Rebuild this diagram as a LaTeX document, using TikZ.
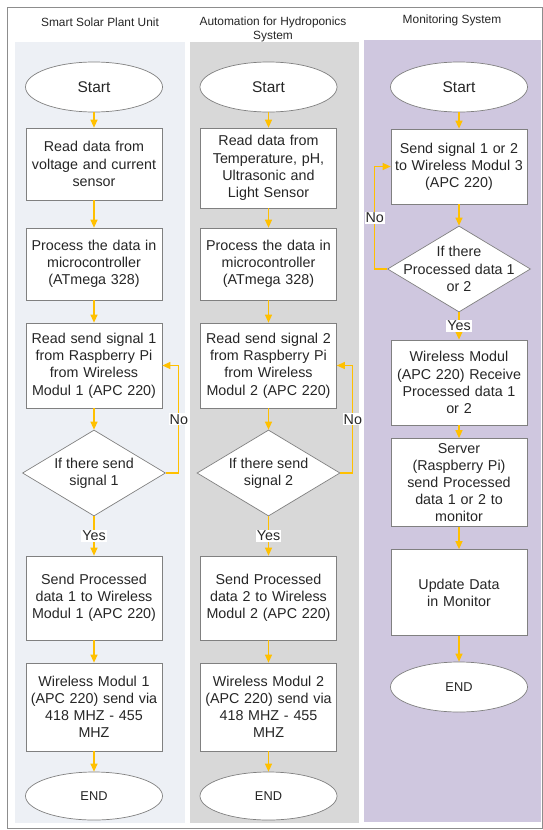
\documentclass[tikz,border=0pt]{standalone}
\usepackage{fontspec}
\setmainfont{Liberation Sans}
\usepackage{tikz}
\usetikzlibrary{arrows.meta,shapes.geometric}

\definecolor{laneA}{RGB}{237,240,245}
\definecolor{laneB}{RGB}{216,216,216}
\definecolor{laneC}{RGB}{207,199,223}
\definecolor{flowgold}{RGB}{255,192,0}
\definecolor{boxgray}{RGB}{128,128,128}
\definecolor{inkgray}{RGB}{38,38,38}

\tikzset{
  procbox/.style={draw=boxgray, fill=white, line width=0.7pt, text=inkgray,
    text width=134pt, inner xsep=1pt, inner ysep=0pt, align=center,
    font=\fontsize{14.3}{17.2}\selectfont},
  terminal/.style={ellipse, draw=boxgray, fill=white, line width=0.7pt, text=inkgray,
    inner sep=0pt, minimum width=137pt, minimum height=50pt},
  decision/.style={diamond, draw=boxgray, fill=white, line width=0.7pt,
    inner sep=0pt, minimum width=143pt, minimum height=86pt},
  ask/.style={text=inkgray, align=center, font=\fontsize{14.3}{17.2}\selectfont},
  flow/.style={draw=flowgold, line width=1.2pt, -{Triangle[length=8pt,width=7pt]}},
  answer/.style={fill=white, inner sep=1pt, text=inkgray, font=\fontsize{14.3}{17}\selectfont},
  title/.style={text=inkgray, align=center, font=\fontsize{11.9}{14}\selectfont}
}

\begin{document}
\begin{tikzpicture}[x=1pt,y=-1pt]
\useasboundingbox (0,0) rectangle (543,830);

% Frame and lanes
\fill[white] (0,0) rectangle (543,830);
\draw[boxgray!90, line width=0.8pt] (7,7) rectangle (542.5,828);
\fill[laneA] (15,42) rectangle (185,823);
\fill[laneB] (190,42) rectangle (359,823);
\fill[laneC] (364,40) rectangle (541,822);

% Lane titles
\node[title] (tsolar) at (100,22) {Smart Solar Plant Unit};
\node[title] (thydro) at (273,29) {Automation for Hydroponics\\System};
\node[title] (tmon) at (452,20) {Monitoring System};

% Smart Solar Plant Unit
\node[terminal, font=\fontsize{15.5}{18}\selectfont] (start1) at (94,87) {Start};
\node[procbox, minimum height=72pt] (read1) at (94,164) {Read data from\\voltage and current\\sensor};
\node[procbox, minimum height=72pt] (proc1) at (94,264) {Process the data in\\microcontroller\\(ATmega 328)};
\node[procbox, minimum height=85pt] (recv1) at (94,365.5) {Read send signal 1\\from Raspberry Pi\\from Wireless\\Modul 1 (APC 220)};
\node[decision, label={[ask]center:If there send\\signal 1}] (check1) at (94,473) {};
\node[procbox, minimum height=84pt] (send1) at (94,598) {Send Processed\\data 1 to Wireless\\Modul 1 (APC 220)};
\node[procbox, minimum height=88pt] (radio1) at (94,707) {Wireless Modul 1\\(APC 220) send via\\418 MHZ - 455\\MHZ};
\node[terminal, minimum height=48pt, font=\fontsize{12.8}{15}\selectfont] (end1) at (94,796) {END};

\draw[flow] (start1) -- (read1);
\draw[flow] (read1) -- (proc1);
\draw[flow] (proc1) -- (recv1);
\draw[flow] (recv1) -- (check1);
\draw[flow] (check1.south) -- node[answer] {Yes} (send1.north);
\draw[flow] (check1.east) -- ++(13,0) |- node[pos=0.25, answer] {No} (recv1.east);
\draw[flow] (send1) -- (radio1);
\draw[flow] (radio1) -- (end1);

% Automation for Hydroponics System
\node[terminal, font=\fontsize{15.5}{18}\selectfont] (start2) at (268.5,87) {Start};
\node[procbox, minimum height=80pt] (read2) at (268.5,168) {Read data from\\Temperature, pH,\\Ultrasonic and\\Light Sensor};
\node[procbox, minimum height=72pt] (proc2) at (268.5,264) {Process the data in\\microcontroller\\(ATmega 328)};
\node[procbox, minimum height=85pt] (recv2) at (268.5,365.5) {Read send signal 2\\from Raspberry Pi\\from Wireless\\Modul 2 (APC 220)};
\node[decision, label={[ask]center:If there send\\signal 2}] (check2) at (268.5,473) {};
\node[procbox, minimum height=84pt] (send2) at (268.5,598) {Send Processed\\data 2 to Wireless\\Modul 2 (APC 220)};
\node[procbox, minimum height=88pt] (radio2) at (268.5,707) {Wireless Modul 2\\(APC 220) send via\\418 MHZ - 455\\MHZ};
\node[terminal, minimum height=48pt, font=\fontsize{12.8}{15}\selectfont] (end2) at (268.5,796) {END};

\draw[flow] (start2) -- (read2);
\draw[flow] (read2) -- (proc2);
\draw[flow] (proc2) -- (recv2);
\draw[flow] (recv2) -- (check2);
\draw[flow] (check2.south) -- node[answer] {Yes} (send2.north);
\draw[flow] (check2.east) -- ++(12.5,0) |- node[pos=0.25, answer] {No} (recv2.east);
\draw[flow] (send2) -- (radio2);
\draw[flow] (radio2) -- (end2);

% Monitoring System
\node[terminal, font=\fontsize{15.5}{18}\selectfont] (start3) at (459,87) {Start};
\node[procbox, minimum height=75pt] (send3) at (459,166.5) {Send signal 1 or 2\\to Wireless Modul 3\\(APC 220)};
\node[decision, label={[ask]center:If there\\Processed data 1\\or 2}] (check3) at (459,269) {};
\node[procbox, minimum height=85pt] (recv3) at (459,382.5) {Wireless Modul\\(APC 220) Receive\\Processed data 1\\or 2};
\node[procbox, minimum height=88pt] (server3) at (459,482.5) {Server\\(Raspberry Pi)\\send Processed\\data 1 or 2 to\\monitor};
\node[procbox, minimum height=86pt] (update3) at (459,592.5) {Update Data\\in Monitor};
\node[terminal, font=\fontsize{12.8}{15}\selectfont] (end3) at (459,687) {END};

\draw[flow] (start3) -- (send3);
\draw[flow] (send3) -- (check3);
\draw[flow] (check3.south) -- node[answer] {Yes} (recv3.north);
\draw[flow] (check3.west) -- ++(-12.5,0) |- node[pos=0.25, answer] {No} (send3.west);
\draw[flow] (recv3) -- (server3);
\draw[flow] (server3) -- (update3);
\draw[flow] (update3) -- (end3);
\end{tikzpicture}
\end{document}
